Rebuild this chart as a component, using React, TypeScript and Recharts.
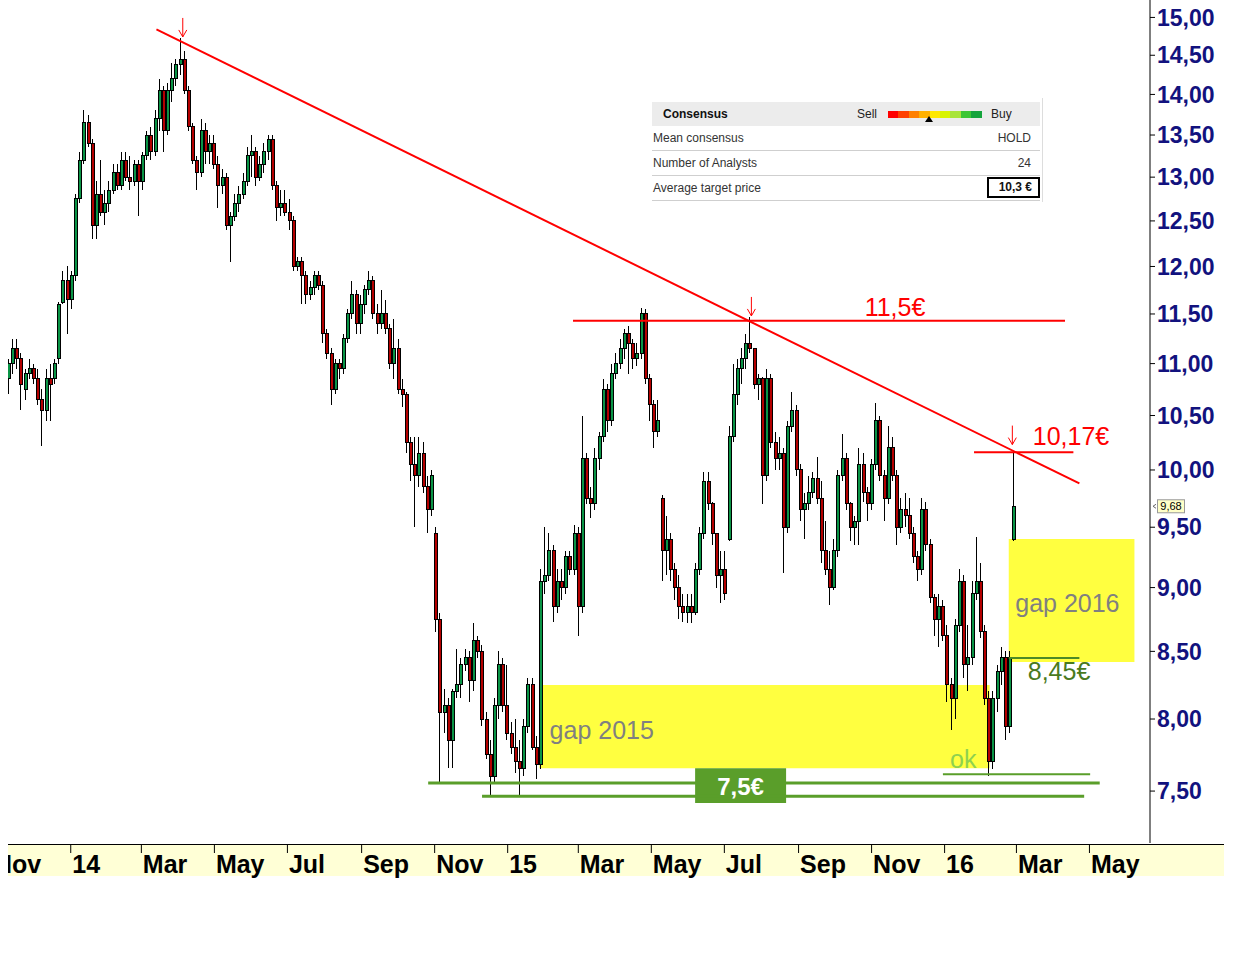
import React from "react";
import { ComposedChart, Bar, XAxis, YAxis, ReferenceLine, ReferenceArea, ReferenceDot } from "recharts";

const FONT = "'Liberation Sans', Arial, sans-serif";

// half-weekly candles, the first one on 2013-11-10, one every 3.5 days
const START = Date.UTC(2013, 10, 10);
const DAY = 86400000;
const STEP_DAYS = 3.5;

const open = [
  10.85, 11.0, 11.15, 11.05, 10.75, 10.9, 10.95, 10.85, 10.65, 10.55,
  10.85, 10.85, 11.05, 11.62, 11.85, 11.65, 11.9, 12.75, 13.2, 13.65,
  13.4, 12.45, 12.8, 12.6, 12.7, 12.85, 13.05, 12.9, 13.2, 13.0,
  12.95, 13.15, 12.95, 13.25, 13.5, 13.3, 13.7, 14.05, 13.55, 14.05,
  14.2, 14.38, 14.45, 14.05, 13.6, 13.2, 13.05, 13.55, 13.3, 13.4,
  13.15, 12.9, 13.0, 12.45, 12.55, 12.7, 12.8, 12.95, 13.25, 13.3,
  13.0, 13.15, 13.3, 13.45, 12.9, 12.65, 12.7, 12.6, 12.5, 12.0,
  12.05, 11.9, 11.7, 11.78, 11.9, 11.8, 11.3, 11.1, 10.75, 11.0,
  10.95, 11.25, 11.5, 11.7, 11.4, 11.6, 11.75, 11.85, 11.5, 11.4,
  11.5, 11.35, 11.0, 11.15, 10.75, 10.7, 10.25, 10.05, 9.95, 10.15,
  9.85, 9.65, 9.45, 8.75, 8.05, 8.1, 7.85, 8.2, 8.25, 8.4,
  8.45, 8.28, 8.58, 8.5, 8.0, 7.75, 7.6, 8.1, 8.4, 8.1,
  7.9, 7.8, 7.7, 7.65, 7.95, 8.25, 7.8, 7.68, 9.05, 9.1,
  9.3, 8.85, 9.05, 9.0, 9.25, 9.15, 9.45, 8.85, 10.1, 9.75,
  9.7, 10.1, 10.3, 10.75, 10.45, 10.9, 11.0, 11.15, 11.3, 11.2,
  11.05, 11.1, 11.5, 10.85, 10.6, 10.35, 9.75, 9.3, 9.4, 9.15,
  9.0, 8.85, 8.8, 8.85, 8.8, 9.15, 9.45, 9.9, 9.7, 9.45,
  9.1, 9.15, 9.4, 10.3, 10.7, 10.95, 11.05, 11.2, 11.15, 10.8,
  10.85, 9.95, 10.85, 10.25, 10.1, 10.15, 9.5, 10.4, 10.55, 10.0,
  9.65, 9.7, 9.8, 9.92, 9.75, 9.3, 9.15, 9.0, 9.3, 9.95,
  10.1, 9.7, 9.5, 9.55, 10.05, 9.8, 9.7, 10.05, 10.45, 9.95,
  9.75, 10.2, 9.95, 9.5, 9.65, 9.6, 9.45, 9.25, 9.15, 9.65,
  9.35, 8.92, 8.75, 8.85, 8.62, 8.25, 8.15, 8.7, 9.05, 8.4,
  8.45, 8.95, 9.05, 8.65, 8.15, 7.7, 8.15, 8.35, 8.45, 7.95,
  9.4,
];

const high = [
  11.05, 11.25, 11.25, 11.1, 10.95, 11.05, 11.0, 10.95, 10.75, 10.95,
  11.0, 11.05, 11.62, 11.95, 12.0, 11.95, 12.8, 13.3, 13.8, 13.75,
  13.45, 12.95, 13.2, 12.85, 12.95, 13.15, 13.15, 13.3, 13.3, 13.25,
  13.2, 13.2, 13.3, 13.55, 13.6, 13.8, 14.2, 14.1, 14.15, 14.4,
  14.45, 14.72, 14.55, 14.1, 13.65, 13.25, 13.7, 13.65, 13.5, 13.5,
  13.25, 13.1, 13.05, 12.6, 12.8, 12.9, 13.05, 13.35, 13.5, 13.35,
  13.25, 13.4, 13.5, 13.5, 12.95, 12.85, 12.85, 12.75, 12.55, 12.1,
  12.1, 11.95, 11.85, 11.95, 11.95, 11.85, 11.35, 11.15, 11.05, 11.05,
  11.3, 11.55, 11.85, 11.75, 11.7, 11.8, 11.95, 11.9, 11.6, 11.75,
  11.65, 11.4, 11.45, 11.25, 10.85, 10.72, 10.3, 10.3, 10.3, 10.25,
  9.95, 10.0, 9.5, 8.8, 8.22, 8.15, 8.22, 8.52, 8.45, 8.52,
  8.5, 8.72, 8.62, 8.55, 8.05, 7.85, 8.15, 8.5, 8.45, 8.4,
  7.98, 8.0, 7.85, 8.0, 8.3, 8.3, 7.88, 9.15, 9.5, 9.45,
  9.35, 9.15, 9.15, 9.3, 9.3, 9.52, 9.5, 10.5, 10.15, 9.85,
  10.2, 10.35, 10.85, 10.8, 11.0, 11.1, 11.25, 11.35, 11.38, 11.25,
  11.2, 11.56, 11.55, 10.9, 10.65, 10.65, 9.78, 9.6, 9.45, 9.2,
  9.1, 8.95, 8.95, 8.95, 9.2, 9.5, 9.98, 9.98, 9.72, 9.45,
  9.3, 9.3, 10.4, 11.0, 11.05, 11.15, 11.3, 11.47, 11.15, 10.9,
  10.87, 10.95, 10.9, 10.35, 10.3, 10.2, 10.45, 10.72, 10.6, 10.05,
  9.8, 9.95, 9.98, 10.12, 9.9, 9.55, 9.3, 9.4, 10.0, 10.33,
  10.15, 9.72, 9.6, 10.2, 10.15, 9.85, 10.1, 10.62, 10.5, 10.0,
  10.4, 10.3, 10.0, 9.75, 9.8, 9.75, 9.5, 9.3, 9.75, 9.72,
  9.4, 8.95, 8.95, 8.9, 8.7, 8.3, 8.75, 9.15, 9.1, 8.7,
  9.05, 9.42, 9.2, 8.7, 8.2, 8.2, 8.4, 8.53, 8.5, 8.5,
  10.17,
];

const low = [
  10.7, 10.9, 10.95, 10.55, 10.65, 10.85, 10.8, 10.6, 10.22, 10.45,
  10.45, 10.8, 11.0, 11.6, 11.3, 11.55, 11.85, 12.7, 13.15, 13.35,
  12.3, 12.3, 12.55, 12.45, 12.6, 12.8, 12.85, 12.85, 12.95, 12.85,
  12.9, 12.55, 12.85, 13.2, 13.2, 13.25, 13.55, 13.3, 13.5, 13.9,
  14.1, 14.25, 14.0, 13.55, 13.15, 12.85, 13.0, 13.15, 13.15, 13.1,
  12.65, 12.8, 12.4, 12.05, 12.5, 12.6, 12.75, 12.9, 13.0, 12.9,
  12.95, 13.05, 13.2, 12.85, 12.5, 12.55, 12.55, 12.4, 11.95, 11.95,
  11.6, 11.6, 11.65, 11.7, 11.75, 11.2, 11.05, 10.6, 10.7, 10.85,
  10.9, 11.2, 11.45, 11.3, 11.3, 11.5, 11.7, 11.45, 11.3, 11.35,
  11.3, 10.95, 10.85, 10.7, 10.58, 10.15, 9.9, 9.5, 9.85, 9.8,
  9.45, 9.6, 8.65, 7.55, 7.9, 7.66, 7.66, 8.15, 8.15, 8.35,
  8.12, 8.2, 8.45, 7.95, 7.72, 7.46, 7.55, 8.0, 8.05, 7.85,
  7.75, 7.62, 7.46, 7.6, 7.9, 7.78, 7.58, 7.65, 8.95, 9.05,
  8.73, 8.8, 8.9, 8.95, 9.1, 9.1, 8.62, 8.8, 9.7, 9.58,
  9.65, 10.0, 10.25, 10.35, 10.4, 10.85, 10.95, 11.05, 10.9, 10.95,
  10.98, 11.05, 10.8, 10.45, 10.2, 10.3, 9.05, 9.1, 9.05, 8.9,
  8.75, 8.73, 8.72, 8.72, 8.78, 9.1, 9.4, 9.65, 9.35, 9.0,
  8.88, 8.9, 9.38, 10.25, 10.6, 10.8, 10.95, 11.1, 10.75, 10.65,
  9.7, 9.9, 10.2, 10.0, 10.0, 9.12, 9.45, 10.35, 9.95, 9.55,
  9.4, 9.65, 9.75, 9.7, 9.2, 9.1, 8.86, 8.98, 9.25, 9.9,
  9.65, 9.38, 9.35, 9.35, 9.72, 9.55, 9.65, 10.0, 9.9, 9.55,
  9.7, 9.9, 9.35, 9.45, 9.5, 9.4, 9.2, 9.05, 9.1, 9.3,
  8.88, 8.62, 8.53, 8.58, 8.12, 7.92, 8.0, 8.65, 8.3, 8.2,
  8.4, 8.9, 8.6, 8.1, 7.6, 7.65, 8.05, 8.25, 7.85, 7.9,
  9.38,
];

const close = [
  11.0, 11.15, 11.05, 10.8, 10.9, 10.95, 10.85, 10.65, 10.55, 10.85,
  10.8, 11.0, 11.6, 11.85, 11.65, 11.9, 12.75, 13.2, 13.65, 13.4,
  12.45, 12.8, 12.6, 12.7, 12.85, 13.05, 12.9, 13.2, 13.0, 12.95,
  13.15, 12.95, 13.25, 13.5, 13.3, 13.7, 14.05, 13.55, 14.05, 14.2,
  14.38, 14.45, 14.05, 13.6, 13.2, 13.05, 13.55, 13.3, 13.4, 13.15,
  12.9, 13.0, 12.45, 12.55, 12.7, 12.8, 12.95, 13.25, 13.3, 13.0,
  13.15, 13.3, 13.45, 12.9, 12.65, 12.7, 12.6, 12.5, 12.0, 12.05,
  11.9, 11.7, 11.78, 11.9, 11.8, 11.3, 11.1, 10.75, 11.0, 10.95,
  11.25, 11.5, 11.7, 11.4, 11.6, 11.75, 11.85, 11.5, 11.4, 11.5,
  11.35, 11.0, 11.15, 10.75, 10.7, 10.25, 10.05, 9.95, 10.15, 9.85,
  9.65, 9.95, 8.75, 8.05, 8.1, 7.85, 8.2, 8.25, 8.4, 8.45,
  8.28, 8.58, 8.5, 8.0, 7.75, 7.6, 8.1, 8.4, 8.1, 7.9,
  7.8, 7.7, 7.65, 7.95, 8.25, 7.8, 7.68, 9.05, 9.1, 9.3,
  8.85, 9.05, 9.0, 9.25, 9.15, 9.45, 8.85, 10.1, 9.75, 9.7,
  10.1, 10.3, 10.75, 10.45, 10.9, 11.0, 11.15, 11.3, 11.2, 11.05,
  11.1, 11.5, 10.85, 10.6, 10.35, 10.45, 9.3, 9.4, 9.15, 9.0,
  8.85, 8.8, 8.85, 8.8, 9.15, 9.45, 9.9, 9.7, 9.45, 9.1,
  9.15, 8.95, 10.3, 10.7, 10.95, 11.05, 11.2, 11.15, 10.8, 10.85,
  9.95, 10.85, 10.25, 10.1, 10.15, 9.5, 10.4, 10.55, 10.0, 9.65,
  9.7, 9.8, 9.92, 9.75, 9.3, 9.15, 9.0, 9.3, 9.95, 10.1,
  9.7, 9.5, 9.55, 10.05, 9.8, 9.7, 10.05, 10.45, 9.95, 9.75,
  10.2, 9.95, 9.5, 9.65, 9.6, 9.45, 9.25, 9.15, 9.65, 9.35,
  8.92, 8.75, 8.85, 8.62, 8.25, 8.15, 8.7, 9.05, 8.4, 8.45,
  8.95, 9.05, 8.65, 8.15, 7.7, 8.15, 8.35, 8.45, 7.95, 8.45,
  9.68,
];

const priceTicks = [7.5, 8, 8.5, 9, 9.5, 10, 10.5, 11, 11.5, 12, 12.5, 13, 13.5, 14, 14.5, 15];

const monthTicks = [
  { date: "2013-11-10", label: "Nov" },
  { date: "2014-01-01", label: "14" },
  { date: "2014-03-01", label: "Mar" },
  { date: "2014-05-01", label: "May" },
  { date: "2014-07-01", label: "Jul" },
  { date: "2014-09-01", label: "Sep" },
  { date: "2014-11-01", label: "Nov" },
  { date: "2015-01-01", label: "15" },
  { date: "2015-03-01", label: "Mar" },
  { date: "2015-05-01", label: "May" },
  { date: "2015-07-01", label: "Jul" },
  { date: "2015-09-01", label: "Sep" },
  { date: "2015-11-01", label: "Nov" },
  { date: "2016-01-01", label: "16" },
  { date: "2016-03-01", label: "Mar" },
  { date: "2016-05-01", label: "May" },
];

const dayOf = (s: string) => (Date.parse(s) - START) / DAY;

const data = open.map((o, i) => ({
  t: i * STEP_DAYS,
  open: o,
  high: high[i],
  low: low[i],
  close: close[i],
}));

// annotations (dates / prices)
const trend = [
  { date: "2014-03-14", price: 14.84 },
  { date: "2016-04-23", price: 9.88 },
];
const resistance = { from: "2015-02-25", to: "2016-04-11", price: 11.43 };
const lastHigh = { from: "2016-01-26", to: "2016-04-18", price: 10.16 };
const support8 = { from: "2016-02-24", to: "2016-04-23", price: 8.45 };
const supports = [
  { from: "2014-10-27", to: "2016-05-10", price: 7.554, width: 3 },
  { from: "2014-12-11", to: "2016-04-27", price: 7.466, width: 3 },
  { from: "2015-12-31", to: "2016-05-02", price: 7.613, width: 2 },
];
const gap2015 = { from: "2015-01-28", to: "2016-02-08", top: 8.247, bottom: 7.655 };
const gap2016 = { from: "2016-02-24", to: "2016-06-08", top: 9.4, bottom: 8.42 };
const box75 = { from: "2015-06-07", to: "2015-08-22", top: 7.655, bottom: 7.42 };
const arrows = [
  { date: "2014-04-05", price: 14.74 },
  { date: "2015-07-24", price: 11.48 },
  { date: "2016-02-27", price: 10.23 },
];
const notes = [
  { text: "11,5€", date: "2015-11-21", price: 11.57, color: "#ff0000", size: 25, bold: false },
  { text: "10,17€", date: "2016-04-16", price: 10.31, color: "#ff0000", size: 25, bold: false },
  { text: "8,45€", date: "2016-04-06", price: 8.35, color: "#4a7a1e", size: 25, bold: false },
  { text: "gap 2015", date: "2015-03-21", price: 7.92, color: "#808080", size: 25, bold: false },
  { text: "gap 2016", date: "2016-04-13", price: 8.876, color: "#808080", size: 25, bold: false },
  { text: "ok", date: "2016-01-17", price: 7.718, color: "#8fd14f", size: 25, bold: false },
  { text: "7,5€", date: "2015-07-15", price: 7.534, color: "#ffffff", size: 24, bold: true },
];
const lastPrice = 9.68;

const consensusRows = [
  { label: "Mean consensus", value: "HOLD" },
  { label: "Number of Analysts", value: "24" },
  { label: "Average target price", value: "10,3 €" },
];
const meterColors = ["#ff0000", "#ff4000", "#ff8000", "#ffb000", "#ffe800", "#d8f400", "#a8e43a", "#3cc634", "#14a43c"];

const Candle = (props: any) => {
  const { x, y, width, height, payload } = props;
  if (x == null || !payload) return null;
  const cx = Math.round(x + width / 2) + 0.5;
  const top = Math.min(y, y + height);
  const bot = Math.max(y, y + height);
  const lh = Math.log(payload.high);
  const ll = Math.log(payload.low);
  const at = (v: number) => (lh === ll ? top : top + ((bot - top) * (lh - Math.log(v))) / (lh - ll));
  const yo = at(payload.open);
  const yc = at(payload.close);
  const up = payload.close >= payload.open;
  const bt = Math.min(yo, yc);
  const bh = Math.max(1, Math.abs(yc - yo));
  return (
    <g shapeRendering="crispEdges">
      <line x1={cx} x2={cx} y1={top} y2={bot} stroke="#000" strokeWidth={1} />
      <rect x={cx - 1.5} y={bt} width={3} height={bh} fill={up ? "#0a9446" : "#b40000"} stroke="#000" strokeWidth={1} />
    </g>
  );
};

const MonthTick = (props: any) => {
  const { x, y, payload } = props;
  const m = monthTicks.find((d) => Math.abs(dayOf(d.date) - payload.value) < 0.01);
  if (!m) return null;
  const first = payload.value === 0;
  return (
    <g>
      {!first && <line x1={x + 0.5} x2={x + 0.5} y1={y + 1} y2={y + 10} stroke="#000" />}
      <text x={first ? x - 14 : x + 2} y={y + 30} fontSize={25} fontWeight={700} fill="#000" fontFamily={FONT}>
        {m.label}
      </text>
    </g>
  );
};

const Arrow = (props: any) => {
  const { cx, cy } = props;
  return (
    <g stroke="#ff0000" strokeWidth={1} fill="none">
      <line x1={cx} x2={cx} y1={cy - 19} y2={cy} />
      <polyline points={`${cx - 4},${cy - 7} ${cx},${cy} ${cx + 4},${cy - 7}`} />
    </g>
  );
};

const PriceTag = (props: any) => {
  const { cx, cy } = props;
  return (
    <g fontFamily={FONT}>
      <polyline points={`${cx + 6},${cy - 2} ${cx + 3},${cy} ${cx + 6},${cy + 2}`} stroke="#666" fill="none" />
      <rect x={cx + 7.5} y={cy - 6.5} width={27} height={13} fill="#ffffc8" stroke="#999" />
      <text x={cx + 21} y={cy + 4} fontSize={11} textAnchor="middle" fill="#000">
        {lastPrice.toFixed(2).replace(".", ",")}
      </text>
    </g>
  );
};

const Consensus = () => (
  <div style={{ position: "absolute", left: 644, top: 102, width: 388, fontFamily: FONT, fontSize: 12, color: "#333" }}>
    <div style={{ position: "relative", height: 24, background: "#ececec" }}>
      <span style={{ position: "absolute", left: 11, top: 5, fontWeight: 700, color: "#111" }}>Consensus</span>
      <span style={{ position: "absolute", left: 205, top: 5, color: "#222" }}>Sell</span>
      <div style={{ position: "absolute", left: 236, top: 9, display: "flex" }}>
        {meterColors.map((c) => (
          <div key={c} style={{ width: 10.4, height: 7, background: c }} />
        ))}
      </div>
      <div
        style={{
          position: "absolute", left: 273, top: 14, width: 0, height: 0,
          borderLeft: "4px solid transparent", borderRight: "4px solid transparent", borderBottom: "6px solid #000",
        }}
      />
      <span style={{ position: "absolute", left: 339, top: 5, color: "#222" }}>Buy</span>
    </div>
    {consensusRows.map((r, i) => (
      <div key={r.label} style={{ position: "relative", height: 25, borderBottom: "1px solid #cfcfcf", boxSizing: "border-box" }}>
        <span style={{ position: "absolute", left: 1, top: 5 }}>{r.label}</span>
        {i < 2 ? (
          <span style={{ position: "absolute", right: 9, top: 5 }}>{r.value}</span>
        ) : (
          <span style={{ position: "absolute", right: 0, top: 1, border: "2px solid #000", padding: "1px 6px 2px 10px", fontWeight: 700, color: "#111" }}>
            {r.value}
          </span>
        )}
      </div>
    ))}
    <div style={{ position: "absolute", left: 390, top: -4, width: 1, height: 104, background: "#dddddd" }} />
  </div>
);

export default function App() {
  return (
    <div style={{ position: "absolute", left: 8, top: 0, width: 1240, height: 880 }}>
      <div
        style={{
          position: "absolute", left: 0, top: 844, width: 1216, height: 32,
          background: "#ffffd6", borderTop: "1px solid #000", boxSizing: "border-box",
        }}
      />
      <ComposedChart width={1232} height={880} data={data} margin={{ top: 0, right: 0, bottom: 0, left: 0 }}>
        <XAxis
          dataKey="t"
          type="number"
          domain={[0, 954]}
          allowDataOverflow
          ticks={monthTicks.map((m) => dayOf(m.date))}
          interval={0}
          tick={(p: any) => <MonthTick {...p} />}
          axisLine={false}
          tickLine={false}
          tickSize={0}
          tickMargin={0}
          height={37}
        />
        <YAxis
          orientation="right"
          scale="log"
          domain={[7.159, 15.236]}
          allowDataOverflow
          ticks={priceTicks}
          interval={0}
          width={90}
          tickSize={5}
          tickFormatter={(v: number) => v.toFixed(2).replace(".", ",")}
          tick={{ fill: "#12127e", fontSize: 23, fontWeight: 700, fontFamily: FONT }}
          axisLine={{ stroke: "#000" }}
          tickLine={{ stroke: "#000" }}
        />
        <ReferenceArea x1={dayOf(gap2015.from)} x2={dayOf(gap2015.to)} y1={gap2015.bottom} y2={gap2015.top} fill="#ffff40" fillOpacity={1} stroke="none" ifOverflow="visible" />
        <ReferenceArea x1={dayOf(gap2016.from)} x2={dayOf(gap2016.to)} y1={gap2016.bottom} y2={gap2016.top} fill="#ffff40" fillOpacity={1} stroke="none" ifOverflow="visible" />
        <Bar dataKey={(d: any) => [d.low, d.high]} barSize={4} isAnimationActive={false} shape={(p: any) => <Candle {...p} />} />
        <ReferenceLine
          segment={[
            { x: dayOf(trend[0].date), y: trend[0].price },
            { x: dayOf(trend[1].date), y: trend[1].price },
          ]}
          stroke="#ff0000"
          strokeWidth={2}
          ifOverflow="visible"
        />
        <ReferenceLine
          segment={[
            { x: dayOf(resistance.from), y: resistance.price },
            { x: dayOf(resistance.to), y: resistance.price },
          ]}
          stroke="#ff0000"
          strokeWidth={2}
          ifOverflow="visible"
        />
        <ReferenceLine
          segment={[
            { x: dayOf(lastHigh.from), y: lastHigh.price },
            { x: dayOf(lastHigh.to), y: lastHigh.price },
          ]}
          stroke="#ff0000"
          strokeWidth={2}
          ifOverflow="visible"
        />
        {supports.map((s) => (
          <ReferenceLine
            key={s.price}
            segment={[
              { x: dayOf(s.from), y: s.price },
              { x: dayOf(s.to), y: s.price },
            ]}
            stroke="#5a9e2a"
            strokeWidth={s.width}
            ifOverflow="visible"
          />
        ))}
        <ReferenceLine
          segment={[
            { x: dayOf(support8.from), y: support8.price },
            { x: dayOf(support8.to), y: support8.price },
          ]}
          stroke="#4e8a26"
          strokeWidth={2}
          ifOverflow="visible"
        />
        <ReferenceArea x1={dayOf(box75.from)} x2={dayOf(box75.to)} y1={box75.bottom} y2={box75.top} fill="#5a9e2a" fillOpacity={1} stroke="none" ifOverflow="visible" />
        {arrows.map((a) => (
          <ReferenceDot key={a.date} x={dayOf(a.date)} y={a.price} ifOverflow="visible" shape={(p: any) => <Arrow {...p} />} />
        ))}
        {notes.map((n) => (
          <ReferenceDot
            key={n.text}
            x={dayOf(n.date)}
            y={n.price}
            ifOverflow="visible"
            shape={(p: any) => (
              <text x={p.cx} y={p.cy} dy="0.36em" textAnchor="middle" fontSize={n.size} fontWeight={n.bold ? 700 : 400} fill={n.color} fontFamily={FONT}>
                {n.text}
              </text>
            )}
          />
        ))}
        <ReferenceDot x={954} y={lastPrice} ifOverflow="visible" shape={(p: any) => <PriceTag {...p} />} />
      </ComposedChart>
      <Consensus />
    </div>
  );
}
